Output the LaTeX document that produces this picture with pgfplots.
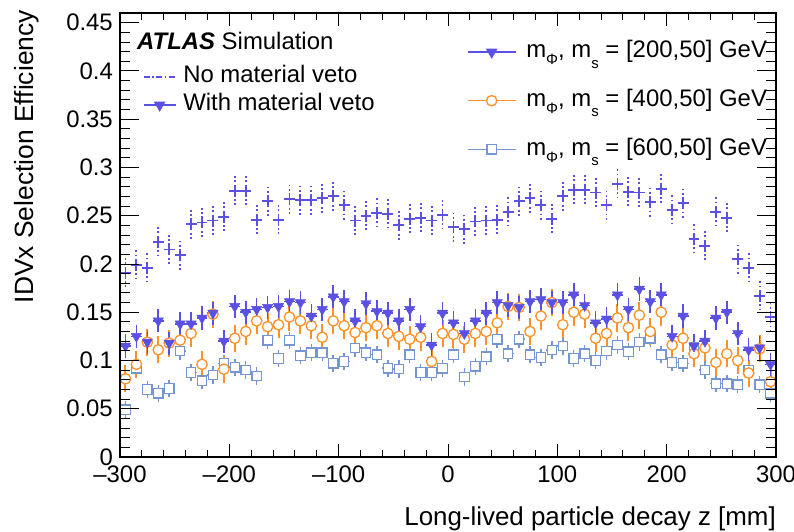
\documentclass[border=0pt]{standalone}
\usepackage{pgfplots}
\pgfplotsset{compat=1.18}
\usepackage{pgfplotstable}
\usepackage{fontspec}
\setmainfont{Liberation Sans}
\definecolor{cviol}{RGB}{90,80,225}
\definecolor{corange}{RGB}{255,145,40}
\definecolor{csq}{RGB}{118,150,210}
\newcommand{\subp}[1]{\raisebox{-0.28em}{\fontsize{15}{15}\selectfont #1}}
\newcommand{\subs}[1]{\raisebox{-0.42em}{\fontsize{15}{15}\selectfont #1}}

\pgfplotstableread{
z a b c d
-295 0.191 0.115 0.081 0.049
-285 0.199 0.125 0.096 0.092
-275 0.196 0.119 0.119 0.070
-265 0.223 0.141 0.111 0.066
-255 0.215 0.118 0.118 0.071
-245 0.209 0.138 0.121 0.110
-235 0.241 0.138 0.128 0.0875
-225 0.243 0.144 0.096 0.079
-215 0.245 0.149 0.148 0.085
-205 0.249 0.120 0.091 0.097
-195 0.276 0.156 0.123 0.093
-185 0.276 0.150 0.130 0.090
-175 0.246 0.153 0.141 0.084
-165 0.265 0.155 0.135 0.121
-155 0.246 0.156 0.137 0.102
-145 0.267 0.161 0.145 0.121
-135 0.266 0.160 0.141 0.105
-125 0.266 0.146 0.136 0.108
-115 0.268 0.153 0.124 0.108
-105 0.270 0.166 0.141 0.097
-95 0.261 0.161 0.136 0.099
-85 0.245 0.141 0.129 0.113
-75 0.250 0.159 0.134 0.108
-65 0.253 0.151 0.136 0.106
-55 0.252 0.149 0.128 0.092
-45 0.240 0.141 0.125 0.091
-35 0.247 0.153 0.122 0.106
-25 0.248 0.135 0.124 0.0875
-15 0.245 0.116 0.099 0.0875
-5 0.251 0.149 0.128 0.092
5 0.238 0.139 0.127 0.106
15 0.236 0.128 0.122 0.083
25 0.244 0.141 0.128 0.094
35 0.245 0.149 0.130 0.104
45 0.246 0.160 0.139 0.122
55 0.254 0.157 0.156 0.107
65 0.265 0.155 0.155 0.122
75 0.268 0.161 0.130 0.106
85 0.261 0.163 0.146 0.103
95 0.247 0.160 0.160 0.111
105 0.270 0.160 0.137 0.115
115 0.277 0.168 0.150 0.102
125 0.277 0.157 0.148 0.107
135 0.274 0.139 0.123 0.100
145 0.261 0.143 0.128 0.110
155 0.283 0.168 0.144 0.116
165 0.275 0.153 0.134 0.109
175 0.274 0.174 0.147 0.119
185 0.264 0.161 0.130 0.123
195 0.278 0.168 0.150 0.106
205 0.256 0.125 0.116 0.098
215 0.263 0.146 0.123 0.097
225 0.226 0.115 0.107 0.114
235 0.219 0.120 0.113 0.090
245 0.254 0.144 0.098 0.076
255 0.248 0.150 0.107 0.076
265 0.205 0.128 0.100 0.075
275 0.196 0.111 0.087 0.090
285 0.167 0.113 0.112 0.075
295 0.145 0.096 0.078 0.066
}\data

\begin{document}
\begin{tikzpicture}[x=1bp,y=1bp]
\pgfplotsset{
  common/.style={
    at={(0,0)}, anchor=south west,
    scale only axis, width=656bp, height=444bp,
    xmin=-300, xmax=300, ymin=0, ymax=0.46,
    axis line style={line width=1.1bp},
    tick style={black, line width=0.9bp},
    tick align=inside,
    font=\fontsize{24}{28}\selectfont,
  },
}
\begin{axis}[common,
  xtick={-300,-200,-100,0,100,200,300},
  xticklabels={–300,–200,–100,0,100,200,300},
  minor x tick num=4,
  ytick=\empty,
  major tick length=13bp, minor tick length=7bp,
  xticklabel style={anchor=base, yshift=-25bp, inner sep=0pt},
  xlabel={Long-lived particle decay z [mm]},
  xlabel style={at={(axis description cs:1,-0.1532)}, anchor=base east, inner sep=0pt, font=\fontsize{26}{30}\selectfont},
  legend cell align=left,
  legend image code/.code={\draw[mark repeat=2,mark phase=2,#1] plot coordinates {(0bp,0bp) (16bp,0bp) (32bp,0bp)};},
  legend style={at={(axis description cs:0.03506,0.8829)}, anchor=north west,
    draw=none, fill=none, inner sep=0pt, outer sep=0pt, row sep=4bp,
    font=\fontsize{24}{28}\selectfont,
    nodes={inner sep=0pt, text height=18bp, text depth=6bp},
    /tikz/every odd column/.append style={column sep=7bp}},
]
% data
\addplot[forget plot, only marks, mark=square*, mark size=4.7bp, mark options={draw=csq, fill=white, line width=1.2bp},
  error bars/.cd, x dir=both, x fixed=5, y dir=both, y fixed=0.009,
  error bar style={line width=1.5bp, csq}, error mark=none]
  table[x=z,y=d] {\data};
\addplot[forget plot, only marks, mark=*, mark size=5.2bp, mark options={draw=corange, fill=white, line width=1.3bp},
  error bars/.cd, x dir=both, x fixed=5, y dir=both, y fixed=0.014,
  error bar style={line width=2bp, corange}, error mark=none]
  table[x=z,y=c] {\data};
\addplot[forget plot, only marks, mark=triangle*, mark size=6bp, mark options={rotate=180, draw=cviol, fill=cviol},
  error bars/.cd, x dir=both, x fixed=5, y dir=both, y fixed=0.012,
  error bar style={line width=1.6bp, cviol}, error mark=none]
  table[x=z,y=b] {\data};
\addplot[forget plot, draw=none, mark=none,
  error bars/.cd, x dir=both, x fixed=5, y dir=both, y fixed=0.015,
  error bar style={line width=1.9bp, cviol, dash pattern=on 6bp off 2.5bp on 1.8bp off 2.5bp}, error mark=none]
  table[x=z,y=a] {\data};
% left legend
\addlegendimage{cviol, line width=1.3bp, dash pattern=on 6bp off 2.5bp on 1.5bp off 2.5bp}
\addlegendentry{No material veto}
\addlegendimage{cviol, line width=1.3bp, mark=triangle*, mark size=5.5bp, mark options={rotate=180, solid, fill=cviol}}
\addlegendentry{With material veto}
\node[anchor=base west, inner sep=0pt, font=\fontsize{24}{28}\selectfont] at (axis description cs:0.0259,0.9167) {\textbf{\textit{ATLAS}} Simulation};
\end{axis}

\begin{axis}[common,
  xtick=\empty,
  ytick={0,0.05,0.1,0.15,0.2,0.25,0.3,0.35,0.4,0.45},
  yticklabels={0,0.05,0.1,0.15,0.2,0.25,0.3,0.35,0.4,0.45},
  minor y tick num=4,
  major tick length=19bp, minor tick length=10bp,
  yticklabel style={anchor=east, inner sep=0pt, xshift=-7bp},
  ylabel={IDVx Selection Efficiency},
  ylabel style={at={(axis description cs:-0.1326,1.0068)}, anchor=base east, inner sep=0pt, font=\fontsize{26.5}{30}\selectfont},
  legend cell align=left,
  legend image code/.code={\draw[mark repeat=2,mark phase=2,#1] plot coordinates {(0bp,0bp) (24bp,0bp) (48bp,0bp)};},
  legend style={at={(axis description cs:0.529,0.9392)}, anchor=north west,
    draw=none, fill=none, inner sep=0pt, outer sep=0pt, row sep=24.7bp,
    font=\fontsize{24}{28}\selectfont,
    nodes={inner sep=0pt, text height=18bp, text depth=6bp},
    /tikz/every odd column/.append style={column sep=10bp}},
]
\addlegendimage{cviol, line width=1.3bp, mark=triangle*, mark size=5.5bp, mark options={rotate=180, solid, fill=cviol}}
\addlegendentry{m\subp{Φ}, m\subs{s} = [200,50] GeV}
\addlegendimage{corange, line width=1.3bp, mark=*, mark size=5.2bp, mark options={solid, fill=white}}
\addlegendentry{m\subp{Φ}, m\subs{s} = [400,50] GeV}
\addlegendimage{csq, line width=1.3bp, mark=square*, mark size=4.7bp, mark options={solid, fill=white}}
\addlegendentry{m\subp{Φ}, m\subs{s} = [600,50] GeV}
\end{axis}
\pgfresetboundingbox
\path[use as bounding box] (-120bp,-75bp) rectangle (674bp,457bp);
\end{tikzpicture}
\end{document}
